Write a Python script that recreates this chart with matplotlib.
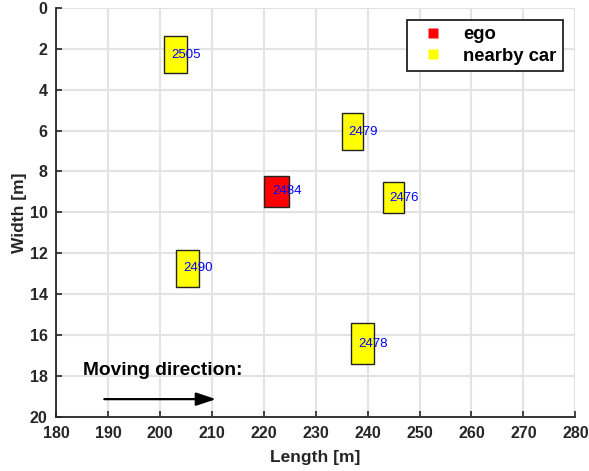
import matplotlib
matplotlib.use('Agg')
import matplotlib.pyplot as plt
from matplotlib.patches import Rectangle
from matplotlib.lines import Line2D

plt.rcParams['font.family'] = ['Liberation Sans', 'DejaVu Sans']

# vehicle states: center x, center y, length, width
car_ids = ['2505', '2484', '2490', '2479', '2476', '2478']
car_x = [203.0, 222.5, 205.3, 237.1, 245.05, 239.0]
car_y = [2.28, 8.98, 12.75, 6.05, 9.29, 16.44]
car_len = [4.3, 4.8, 4.5, 4.2, 4.05, 4.5]
car_wid = [1.83, 1.55, 1.8, 1.8, 1.52, 2.0]
ego_id = '2484'

arrow_start = (189.3, 19.15)
arrow_end = (210.8, 19.15)

fig = plt.figure(figsize=(5.89, 4.71), dpi=100)
ax = fig.add_axes([0.0951, 0.1157, 0.8817, 0.8673])

for cid, cx, cy, L, W in zip(car_ids, car_x, car_y, car_len, car_wid):
    color = 'red' if cid == ego_id else 'yellow'
    ax.add_patch(Rectangle((cx - L / 2, cy - W / 2), L, W,
                           facecolor=color, edgecolor='#222222', lw=1.0, zorder=3))
    ax.text(cx - 0.85, cy, cid, color='blue', fontsize=9.5,
            ha='left', va='center', zorder=4)

ax.text(185.2, 17.75, 'Moving direction:', fontsize=13.8, fontweight='bold',
        ha='left', va='center', zorder=4)
ax.annotate('', xy=arrow_end, xytext=arrow_start,
            arrowprops=dict(arrowstyle='-|>,head_length=1.2,head_width=0.4',
                            color='black', lw=1.6,
                            mutation_scale=10, shrinkA=0, shrinkB=0), zorder=4)

ax.set_xlim(180, 280)
ax.set_ylim(20, 0)
ax.set_xticks(range(180, 281, 10))
ax.set_yticks(range(0, 21, 2))
ax.grid(True, color='#e3e3e3', lw=1.5)
ax.set_axisbelow(True)
ax.tick_params(direction='in', length=4, width=1.2, labelsize=11.5, colors='#262626')
ax.tick_params(axis='x', pad=7)
ax.tick_params(axis='y', pad=6)
for lab in ax.get_xticklabels() + ax.get_yticklabels():
    lab.set_fontweight('bold')
ax.spines['top'].set_visible(False)
ax.spines['right'].set_visible(False)
for s in ['left', 'bottom']:
    ax.spines[s].set_linewidth(1.3)
    ax.spines[s].set_color('#262626')

ax.set_xlabel('Length [m]', fontsize=12.5, fontweight='bold', color='#262626', labelpad=6)
ax.set_ylabel('Width [m]', fontsize=12.5, fontweight='bold', color='#262626', labelpad=2)

handles = [Line2D([], [], marker='s', linestyle='none', markersize=7,
                  markerfacecolor='red', markeredgecolor='none'),
           Line2D([], [], marker='s', linestyle='none', markersize=7,
                  markerfacecolor='yellow', markeredgecolor='none')]
leg = ax.legend(handles, ['ego', 'nearby car'], loc='upper right',
                bbox_to_anchor=(0.976, 0.971), borderaxespad=0,
                prop={'weight': 'bold', 'size': 13.3}, fancybox=False,
                framealpha=1, edgecolor='#222222', handletextpad=0.56,
                labelspacing=0.25, borderpad=0.35, handlelength=2.1)
leg.get_frame().set_linewidth(1.3)

fig.savefig('out.png', dpi=100)
